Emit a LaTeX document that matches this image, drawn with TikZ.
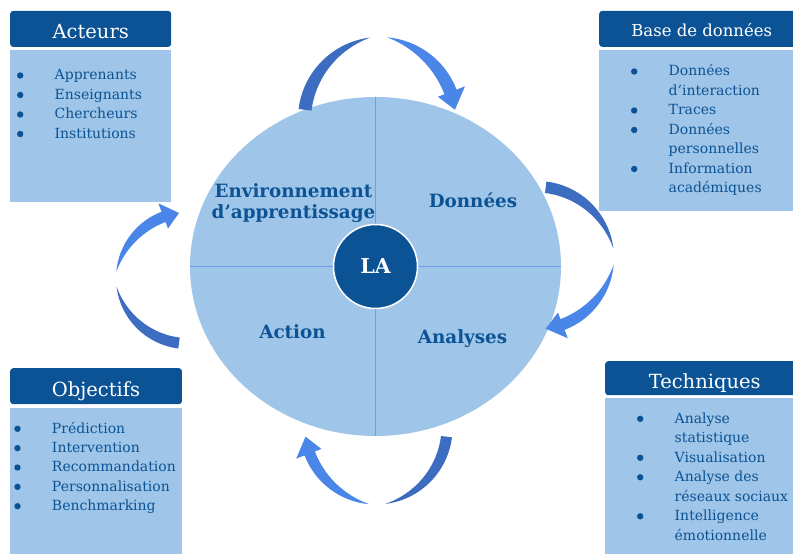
\documentclass[tikz,border=0pt]{standalone}
\usepackage{fontspec}
\setmainfont{DejaVu Serif}
\usetikzlibrary{shapes.geometric}
\usetikzlibrary{positioning}

\definecolor{ladark}{HTML}{0B5394}
\definecolor{laclair}{HTML}{9FC5E8}
\definecolor{latrait}{HTML}{6D9EEB}
\definecolor{flechefonce}{HTML}{3C6DC0}
\definecolor{flecheclair}{HTML}{4A86E8}

\newcommand{\puce}{\makebox[40bp][l]{\hspace*{2.3bp}\tikz[baseline=-4.5bp]\fill[ladark] (0,0) circle (3.2bp);}}
\newcommand{\retrait}{\hspace*{40bp}}

% arrow round the wheel: centre x, centre y, rotation, radius, thickness
\newcommand{\flechecycle}[5]{%
  \begin{scope}[shift={(#1,#2)}, rotate=#3]
    \fill[flechefonce] (173:#4) arc[start angle=173, end angle=97, radius=#4]
      -- plot[domain=97:173, variable=\a, samples=30] (\a:{#4-#5*(1-(1-(\a-97)/76)^2)}) -- cycle;
    \fill[flecheclair] (85:#4) arc[start angle=85, end angle=21, radius=#4]
      -- (21:{#4+9}) -- (7:{#4-#5/2}) -- (21:{#4-#5-7})
      -- plot[domain=21:85, variable=\a, samples=30] (\a:{#4-#5*(1-(1-(85-\a)/64)^2)}) -- cycle;
  \end{scope}}

\begin{document}
\begin{tikzpicture}[x=1bp, y=1bp,
    entete/.style={fill=ladark, text=white, rounded corners=3bp, inner sep=0pt,
      anchor=north west, text height=20bp, text depth=0pt,
      font=\fontsize{19.5bp}{22bp}\selectfont},
    corps/.style={fill=laclair, inner sep=0pt},
    liste/.style={text=ladark, inner sep=0pt, anchor=base west,
      font=\fontsize{14bp}{19.5bp}\selectfont},
    etiquette/.style={text=ladark, inner sep=0pt, align=center,
      font=\bfseries\fontsize{18.3bp}{21.5bp}\selectfont}]
    \clip (0,0) rectangle (793,554);
    \fill[white] (0,0) rectangle (793,554);

    % les quatre cadres
    \node[entete, minimum width=161bp, minimum height=36bp] (acteurs) at (10,543.3) {Acteurs};
    \node[corps, minimum width=161bp, minimum height=152bp, below=2.3bp of acteurs] (acteurs-corps) {};
    \node[liste] (acteurs-liste) at (14.5,474) {\begin{tabular}[t]{@{}l@{}}
      \puce Apprenants\\ \puce Enseignants\\ \puce Chercheurs\\ \puce Institutions
    \end{tabular}};

    \node[entete, minimum width=205bp, minimum height=36bp, text height=15bp,
      font=\fontsize{16.5bp}{18bp}\selectfont] (base) at (599,543.3) {Base de données};
    \node[corps, minimum width=205bp, minimum height=161bp, below=2.3bp of base] (base-corps) {};
    \node[liste] (base-liste) at (628.5,478) {\begin{tabular}[t]{@{}l@{}}
      \puce Données\\ \retrait d’interaction\\ \puce Traces\\ \puce Données\\
      \retrait personnelles\\ \puce Information\\ \retrait académiques
    \end{tabular}};

    \node[entete, minimum width=171.7bp, minimum height=36bp] (objectifs) at (10,186) {Objectifs};
    \node[corps, minimum width=171.7bp, minimum height=160bp, below=3bp of objectifs] (objectifs-corps) {};
    \node[liste, font=\fontsize{14bp}{19.35bp}\selectfont] (objectifs-liste) at (11.8,120.7) {\begin{tabular}[t]{@{}l@{}}
      \puce Prédiction\\ \puce Intervention\\ \puce Recommandation\\
      \puce Personnalisation\\ \puce Benchmarking
    \end{tabular}};

    \node[entete, minimum width=199bp, minimum height=34bp] (techniques) at (605,193) {Techniques};
    \node[corps, minimum width=199bp, minimum height=170bp, below=2bp of techniques] (techniques-corps) {};
    \node[liste] (techniques-liste) at (634.5,130.7) {\begin{tabular}[t]{@{}l@{}}
      \puce Analyse\\ \retrait statistique\\ \puce Visualisation\\ \puce Analyse des\\
      \retrait réseaux sociaux\\ \puce Intelligence\\ \retrait émotionnelle
    \end{tabular}};

    % la roue
    \node[ellipse, fill=laclair, minimum width=371bp, minimum height=339bp, inner sep=0pt] (roue) at (375.5,287.5) {};
    \draw[latrait, line width=1.3bp] (roue.north) -- (roue.south);
    \draw[latrait, line width=1.3bp] (roue.west) -- (roue.east);
    \node[circle, fill=ladark, draw=white, line width=1.5bp, minimum size=84bp, inner sep=0pt,
      text=white, font=\bfseries\fontsize{20.5bp}{22bp}\selectfont] (la) at (roue.center) {LA};

    \node[etiquette] (env) at (293.5,351) {Environnement\\d’apprentissage};
    \node[etiquette, anchor=base] (donnees) at (473,346) {Données};
    \node[etiquette, anchor=base] (action) at (292.5,215.7) {Action};
    \node[etiquette, anchor=base] (analyses) at (462.5,210) {Analyses};

    % les fleches
    \flechecycle{380}{435}{0}{82}{13}
    \flechecycle{537}{296}{-90}{77}{11.5}
    \flechecycle{376}{126}{-180}{76.5}{11}
    \flechecycle{187}{276}{90}{71}{11}
\end{tikzpicture}
\end{document}
